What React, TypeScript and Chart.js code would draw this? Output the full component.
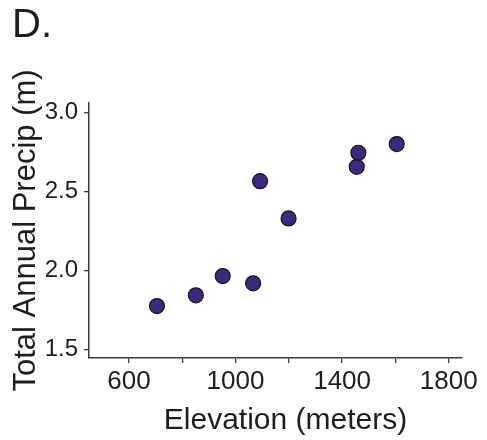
import { useEffect, useRef } from 'react';
import { Chart, registerables } from 'chart.js';

Chart.register(...registerables);

// ---- data ----
const elevation = [705, 851, 952, 1066, 1092, 1199, 1455, 1461, 1605];
const precip = [1.774, 1.842, 1.964, 1.918, 2.565, 2.329, 2.656, 2.745, 2.8];
const xTicks = [600, 800, 1000, 1200, 1400, 1600, 1800];
const xLabeled = [600, 1000, 1400, 1800];
const yTicks = [1.5, 2.0, 2.5, 3.0];
const panelLabel = 'D.';
const xTitle = 'Elevation (meters)';
const yTitle = 'Total Annual Precip (m)';

const FONT = '"Liberation Sans", Arial, Helvetica, sans-serif';
const INK = '#1e1e1e';
const AXIS = '#3a3a3a';

export default function App() {
  const ref = useRef<HTMLCanvasElement>(null);

  useEffect(() => {
    if (!ref.current) return;

    const textPlugin = {
      id: 'panelText',
      afterDraw(chart: any) {
        const { ctx, chartArea } = chart;
        ctx.save();
        ctx.fillStyle = INK;
        ctx.textBaseline = 'alphabetic';
        ctx.textAlign = 'left';
        ctx.font = `40px ${FONT}`;
        ctx.fillText(panelLabel, 12, 37);
        ctx.font = `30px ${FONT}`;
        ctx.textAlign = 'center';
        ctx.fillText(xTitle, (chartArea.left + chartArea.right) / 2 + 10, 429);
        ctx.restore();
      },
    };

    const chart = new Chart(ref.current, {
      type: 'scatter',
      data: {
        datasets: [
          {
            data: elevation.map((x, i) => ({ x, y: precip[i] })),
            backgroundColor: '#3d2a80',
            borderColor: '#151515',
            borderWidth: 1.2,
            pointRadius: 7.5,
            pointHoverRadius: 7.5,
          },
        ],
      },
      options: {
        responsive: true,
        maintainAspectRatio: false,
        animation: false,
        layout: { padding: { top: 103, right: 25, bottom: 0, left: 0 } },
        plugins: {
          legend: { display: false },
          tooltip: { enabled: false },
          title: { display: false },
        },
        scales: {
          x: {
            type: 'linear',
            min: 450,
            max: 1850,
            afterBuildTicks: (s: any) => {
              s.ticks = xTicks.map((v) => ({ value: v }));
            },
            afterFit: (s: any) => {
              s.height = 82;
            },
            grid: {
              display: true,
              drawOnChartArea: false,
              drawTicks: true,
              tickLength: 5,
              color: AXIS,
              lineWidth: 1.3,
            },
            border: { display: true, color: AXIS, width: 1.5 },
            ticks: {
              color: INK,
              font: { family: FONT, size: 26 },
              padding: 3,
              maxRotation: 0,
              autoSkip: false,
              callback: (v: any) => (xLabeled.includes(Number(v)) ? String(v) : ''),
            },
            title: { display: false },
          },
          y: {
            type: 'linear',
            min: 1.445,
            max: 3.06,
            afterBuildTicks: (s: any) => {
              s.ticks = yTicks.map((v) => ({ value: v }));
            },
            afterFit: (s: any) => {
              s.width = 89;
            },
            grid: {
              display: true,
              drawOnChartArea: false,
              drawTicks: true,
              tickLength: 5,
              color: AXIS,
              lineWidth: 1.3,
            },
            border: { display: true, color: AXIS, width: 1.5 },
            ticks: {
              color: INK,
              font: { family: FONT, size: 24 },
              padding: 6,
              callback: (v: any) => Number(v).toFixed(1),
            },
            title: {
              display: true,
              text: yTitle,
              color: INK,
              font: { family: FONT, size: 31 },
              padding: { top: 8, bottom: 0 },
            },
          },
        },
      },
      plugins: [textPlugin],
    });

    return () => chart.destroy();
  }, []);

  return (
    <div style={{ position: 'fixed', left: 0, top: 0, width: 487, height: 440, background: '#fff' }}>
      <canvas ref={ref} />
    </div>
  );
}
